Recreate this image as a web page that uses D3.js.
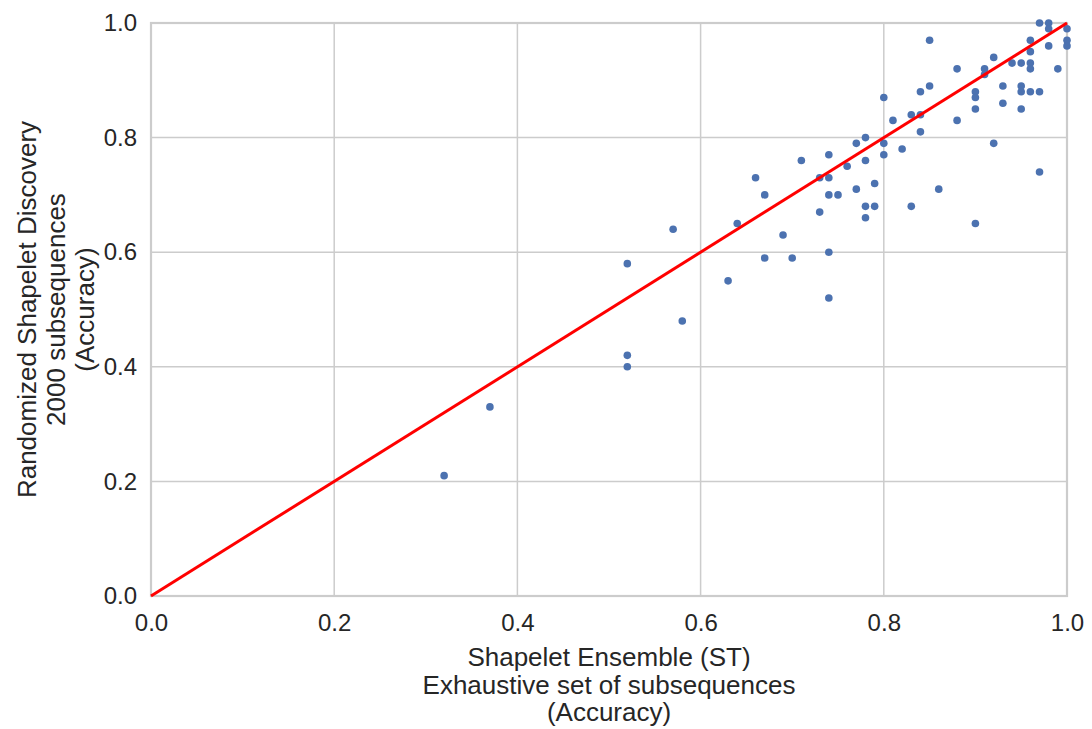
<!DOCTYPE html>
<html><head><meta charset="utf-8">
<script src="https://cdn.jsdelivr.net/npm/d3@7"></script>
<style>body{margin:0;background:#fff}svg{display:block}text{font-family:"Liberation Sans",Arial,sans-serif;fill:#262626}</style>
</head><body><svg id="c" width="1092" height="729"></svg>
<script>
const stAcc = [0.32,0.37,0.52,0.52,0.52,0.57,0.58,0.63,0.64,0.66,0.67,0.67,0.69,0.70,0.71,0.73,0.73,0.74,0.74,0.74,0.74,0.74,0.75,0.76,0.77,0.77,0.78,0.78,0.78,0.78,0.79,0.79,0.80,0.80,0.80,0.81,0.82,0.83,0.83,0.84,0.84,0.84,0.85,0.85,0.86,0.88,0.88,0.90,0.90,0.90,0.90,0.91,0.91,0.92,0.92,0.93,0.93,0.94,0.95,0.95,0.95,0.95,0.96,0.96,0.96,0.96,0.96,0.97,0.97,0.97,0.98,0.98,0.98,0.99,1.00,1.00,1.00];
const rsdAcc = [0.21,0.33,0.42,0.40,0.58,0.64,0.48,0.55,0.65,0.73,0.70,0.59,0.63,0.59,0.76,0.73,0.67,0.77,0.73,0.70,0.60,0.52,0.70,0.75,0.79,0.71,0.80,0.76,0.68,0.66,0.72,0.68,0.87,0.79,0.77,0.83,0.78,0.84,0.68,0.88,0.84,0.81,0.97,0.89,0.71,0.92,0.83,0.88,0.87,0.85,0.65,0.92,0.91,0.94,0.79,0.89,0.86,0.93,0.93,0.89,0.88,0.85,0.97,0.95,0.93,0.92,0.88,0.88,0.74,1.00,1.00,0.99,0.96,0.92,0.99,0.97,0.96];
const tickValues = [0.0,0.2,0.4,0.6,0.8,1.0];
const diagonal = [0,1];
const xLabelLines = ["Shapelet Ensemble (ST)","Exhaustive set of subsequences","(Accuracy)"];
const yLabelLines = ["Randomized Shapelet Discovery","2000 subsequences","(Accuracy)"];

const svg = d3.select("#c");
const L=151,R=1067,T=23,B=596;
const x = d3.scaleLinear().domain([0,1]).range([L,R]);
const y = d3.scaleLinear().domain([0,1]).range([B,T]);
const grid="#cccccc";

svg.append("g").selectAll("line").data(tickValues).join("line")
  .attr("x1",d=>x(d)).attr("x2",d=>x(d)).attr("y1",T).attr("y2",B)
  .attr("stroke",grid).attr("stroke-width",1.5);
svg.append("g").selectAll("line").data(tickValues).join("line")
  .attr("y1",d=>y(d)).attr("y2",d=>y(d)).attr("x1",L).attr("x2",R)
  .attr("stroke",grid).attr("stroke-width",1.5);
svg.append("rect").attr("x",L).attr("y",T).attr("width",R-L).attr("height",B-T)
  .attr("fill","none").attr("stroke",grid).attr("stroke-width",2.2);

const fmt=d3.format(".1f");
const gx = svg.append("g").attr("transform",`translate(0,${B})`)
  .call(d3.axisBottom(x).tickValues(tickValues).tickFormat(fmt).tickSize(0).tickPadding(18));
const gy = svg.append("g").attr("transform",`translate(${L},0)`)
  .call(d3.axisLeft(y).tickValues(tickValues).tickFormat(fmt).tickSize(0).tickPadding(14));
[gx,gy].forEach(g=>{g.select(".domain").remove();g.selectAll("text").style("font-size","24px").style("font-family",'"Liberation Sans",Arial,sans-serif').attr("fill","#262626");});

svg.append("g").selectAll("circle").data(stAcc.map((v,i)=>[v,rsdAcc[i]])).join("circle")
  .attr("cx",d=>x(d[0])).attr("cy",d=>y(d[1])).attr("r",3.8)
  .attr("fill","#4c72b0");

svg.append("line").attr("x1",x(diagonal[0])).attr("y1",y(diagonal[0]))
  .attr("x2",x(diagonal[1])).attr("y2",y(diagonal[1]))
  .attr("stroke","#ff0000").attr("stroke-width",3);

const xl = svg.append("text").attr("text-anchor","middle").style("font-size","26px");
xLabelLines.forEach((t,i)=>xl.append("tspan").attr("x",(L+R)/2).attr("y",666+i*27.5).text(t));
const yl = svg.append("text").attr("text-anchor","middle").style("font-size","26px")
  .attr("transform",`translate(0,${(T+B)/2}) rotate(-90)`);
yLabelLines.forEach((t,i)=>yl.append("tspan").attr("x",0).attr("y",36+i*29).text(t));
</script></body></html>
